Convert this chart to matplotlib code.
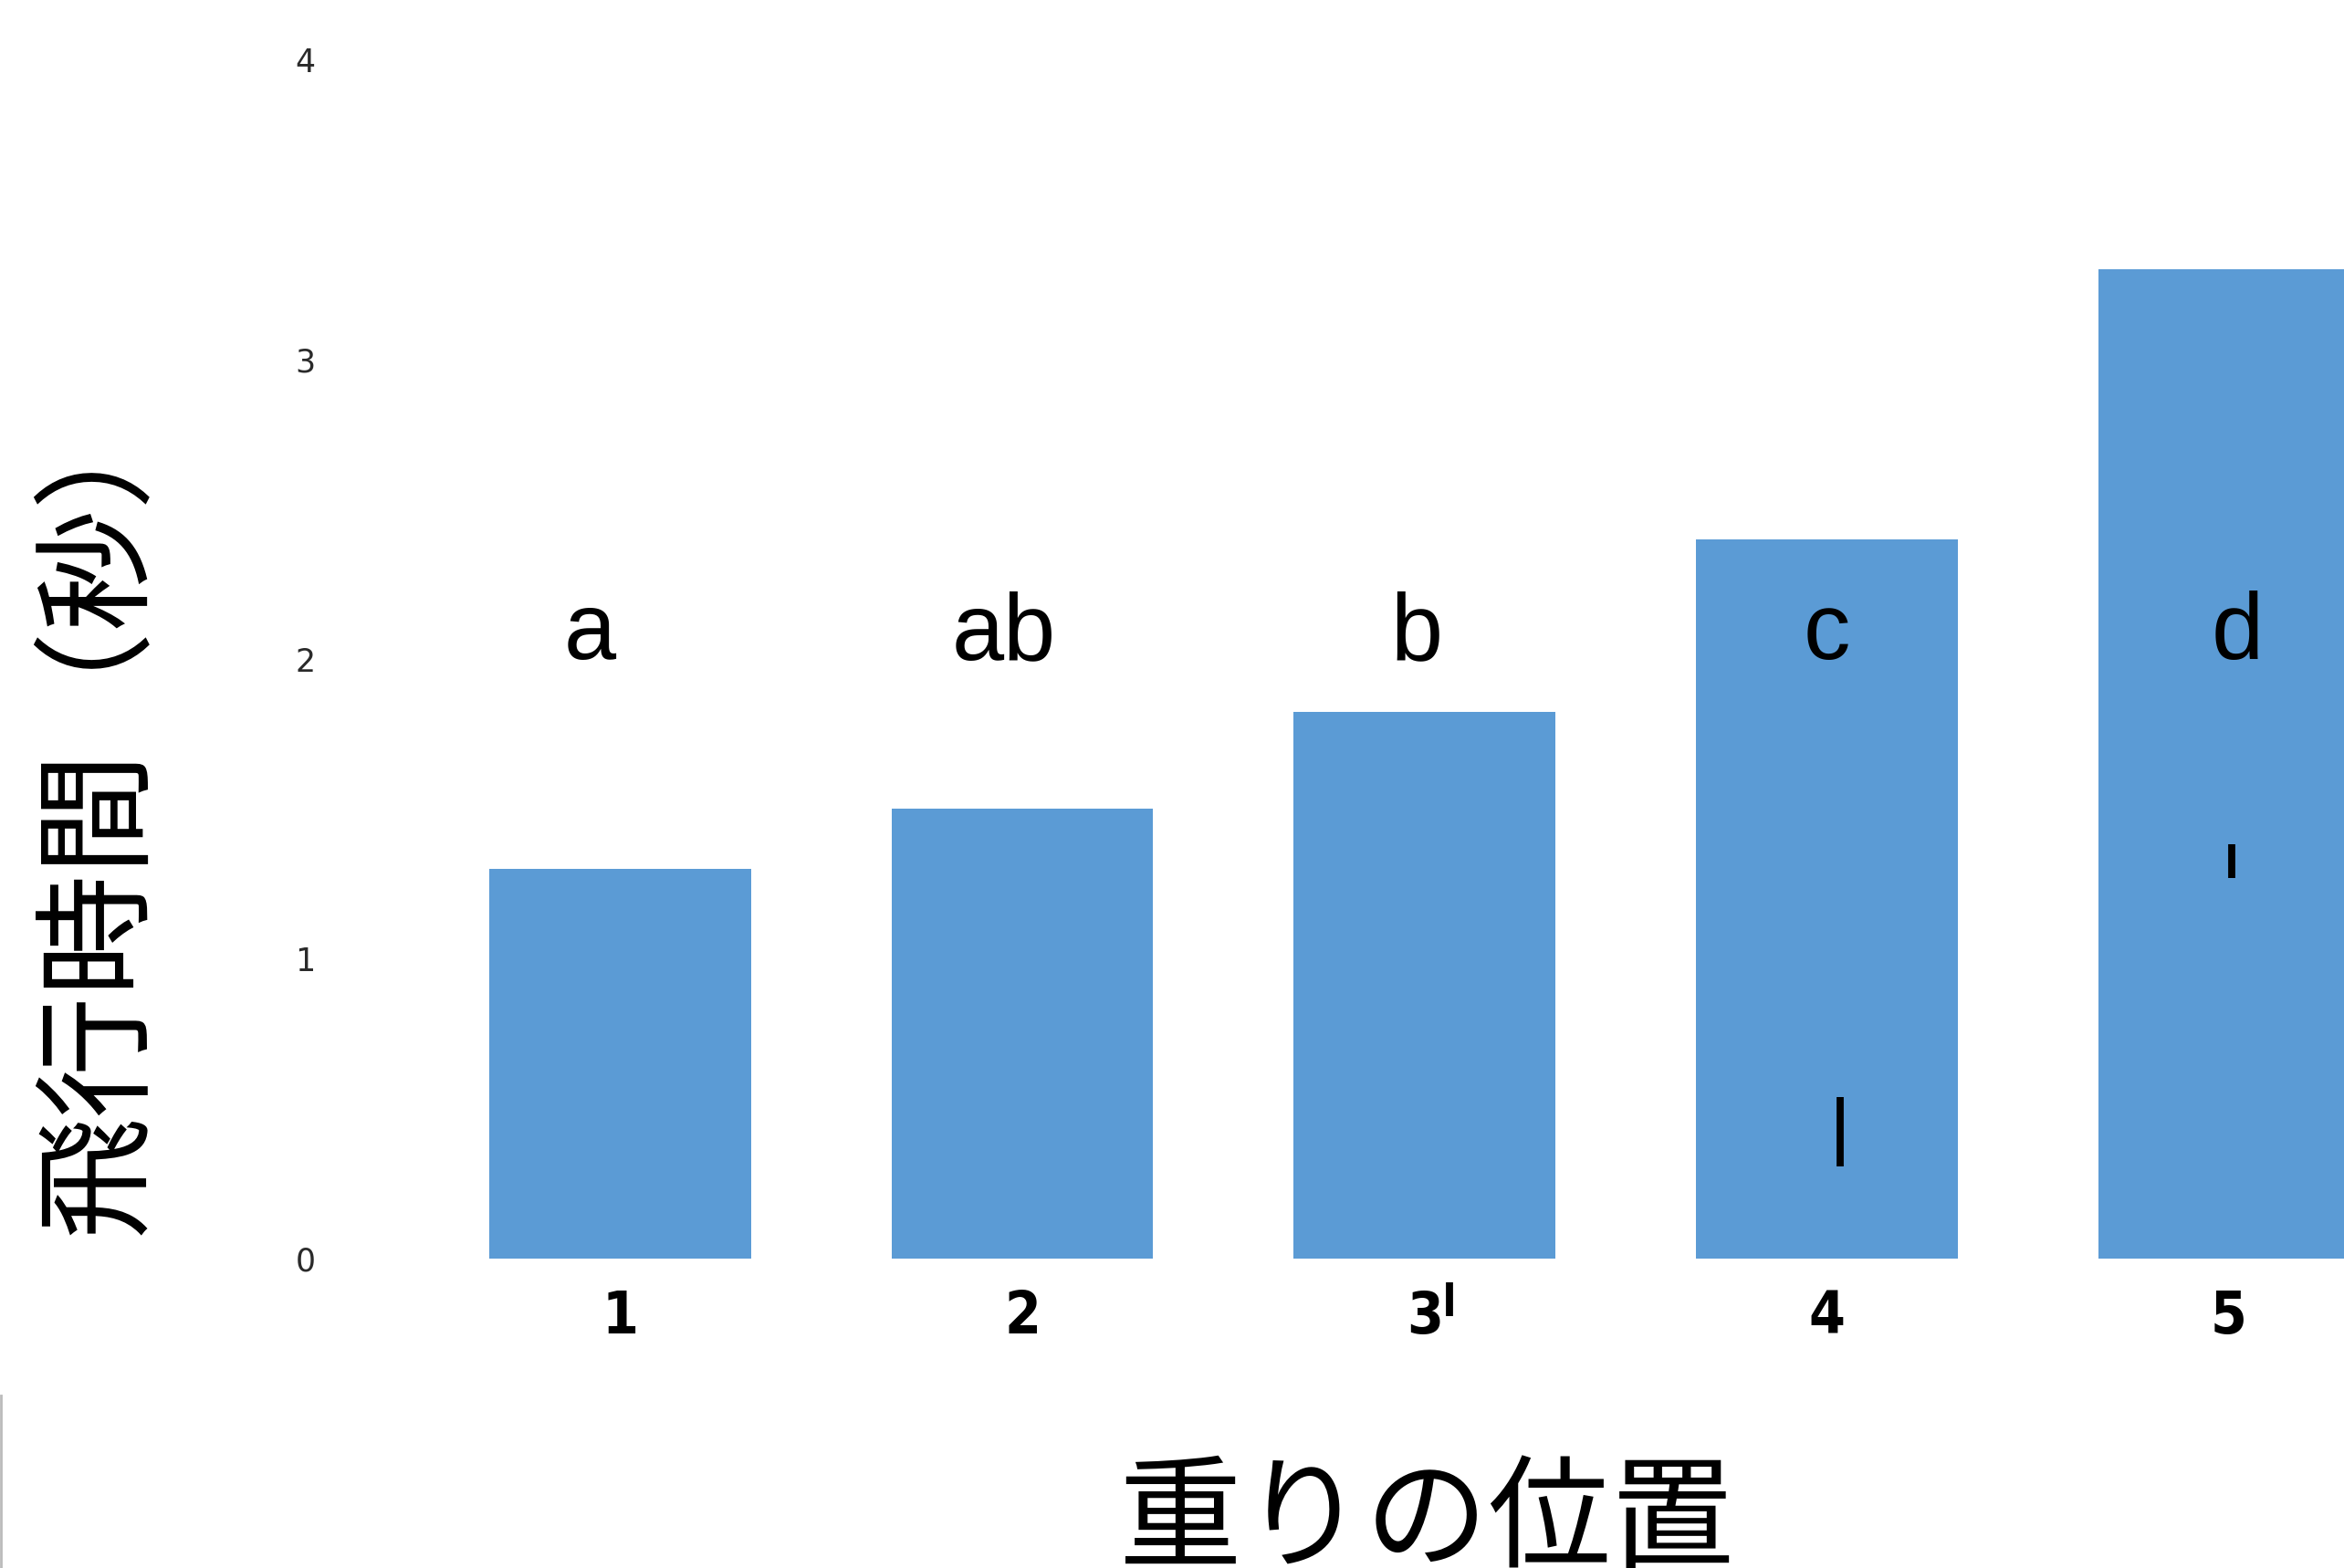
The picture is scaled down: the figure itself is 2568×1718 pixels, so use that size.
import numpy as np
import matplotlib.pyplot as plt
from matplotlib.lines import Line2D

# data
positions = [1, 2, 3, 4, 5]
tick_labels = ["1", "2", "3", "4", "5"]
flight_time = [1.30, 1.50, 1.825, 2.40, 3.30]
group_letters = ["a", "ab", "b", "c", "d"]
letter_y = 2.0

# small stray marks visible in the picture (x, y_low, y_high)
stray_x = [3.061, 4.033, 5.006]
stray_lo = [-0.192, 0.308, 1.270]
stray_hi = [-0.079, 0.539, 1.382]

letter_shift = [-0.075, -0.045, -0.02, 0.0, 0.02]

bar_color = "#5B9BD5"

fig = plt.figure(figsize=(12.84, 8.59), dpi=200)
ax = fig.add_axes([0.14, 0.1973, 0.86, 0.7934])

ax.bar(positions, flight_time, width=0.65, color=bar_color, zorder=2)

for x, s, lab in zip(positions, letter_shift, group_letters):
    ax.text(x + s, letter_y, lab, ha="center", va="baseline",
            fontsize=37, family=["Liberation Sans", "DejaVu Sans"], color="black", zorder=3)

ax.vlines(stray_x, stray_lo, stray_hi, colors="black", linewidth=2.8,
          capstyle="butt", clip_on=False, zorder=4)

ax.set_xlim(0.274, 5.286)
ax.set_ylim(0, 4.15)
ax.set_yticks([0, 1, 2, 3, 4])
ax.set_xticks(positions)
ax.set_xticklabels(tick_labels, fontsize=23, fontweight="bold",
                   fontstretch="condensed", family=["DejaVu Sans"])
ax.tick_params(axis="x", length=0, pad=12)
ax.tick_params(axis="y", length=0, pad=5, labelsize=12.5, labelcolor="#2a2a2a")
for sp in ax.spines.values():
    sp.set_visible(False)

cjk = ["Noto Sans CJK JP", "DejaVu Sans"]
fig.text(0.0425, 0.484, "飛行時間（秒）", rotation=90, ha="center", va="center",
         fontsize=48, family=cjk)
fig.text(0.6086, 0.0686, "重りの位置", ha="center", va="top",
         fontsize=48.5, family=cjk)

fig.add_artist(Line2D([0.0004, 0.0004], [0, 0.11], color="#bbbbbb", linewidth=1))

fig.savefig("out.png", dpi=200)
